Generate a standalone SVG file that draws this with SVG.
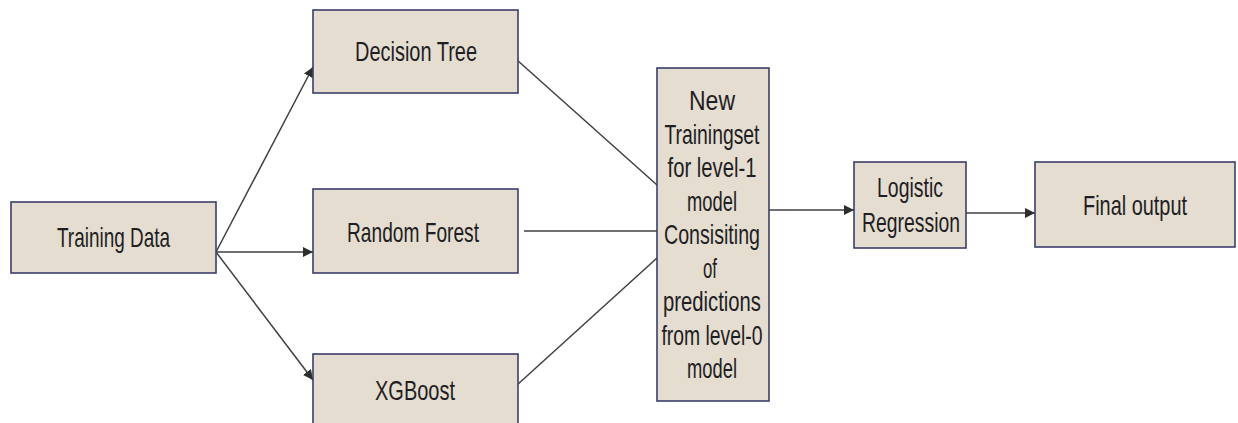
<svg xmlns="http://www.w3.org/2000/svg" width="1238" height="423" viewBox="0 0 1238 423">
<style>
.box{fill:#E4DDD0;stroke:#3B3F6B;stroke-width:1.6}
.t{font-family:"Liberation Sans Narrow","Arial Narrow","Liberation Sans",sans-serif;font-size:28px;fill:#1e1e24;text-anchor:middle}
.c{stroke:#404040;stroke-width:1.5;fill:none}
</style>
<defs>
<marker id="ah" viewBox="0 0 10 10" refX="10" refY="5" markerWidth="10" markerHeight="10" markerUnits="userSpaceOnUse" orient="auto">
<path d="M0,0 L10,5 L0,10 z" fill="#2e2e2e"/>
</marker>
</defs>
<rect width="1238" height="423" fill="#ffffff"/>
<g id="connectors">
<line class="c" x1="216" y1="252" x2="313" y2="67" marker-end="url(#ah)"/>
<line class="c" x1="216" y1="252" x2="313" y2="252" marker-end="url(#ah)"/>
<line class="c" x1="216" y1="252" x2="313" y2="380" marker-end="url(#ah)"/>
<line class="c" x1="517" y1="60" x2="657" y2="185"/>
<line class="c" x1="524" y1="231" x2="657" y2="231"/>
<line class="c" x1="517" y1="385" x2="657" y2="258"/>
<line class="c" x1="769" y1="210" x2="854" y2="210" marker-end="url(#ah)"/>
<line class="c" x1="966" y1="213" x2="1035" y2="213" marker-end="url(#ah)"/>
</g>
<g id="training-data">
<rect class="box" x="11" y="202" width="205" height="71"/>
<text class="t" x="113.5" y="247" textLength="113" lengthAdjust="spacingAndGlyphs">Training Data</text>
</g>
<g id="decision-tree">
<rect class="box" x="313" y="10" width="205" height="83"/>
<text class="t" x="416" y="61" textLength="122" lengthAdjust="spacingAndGlyphs">Decision Tree</text>
</g>
<g id="random-forest">
<rect class="box" x="313" y="189" width="205" height="84"/>
<text class="t" x="413" y="242" textLength="132" lengthAdjust="spacingAndGlyphs">Random Forest</text>
</g>
<g id="xgboost">
<rect class="box" x="313" y="354" width="205" height="84"/>
<text class="t" x="415" y="400" textLength="80" lengthAdjust="spacingAndGlyphs">XGBoost</text>
</g>
<g id="new-trainingset">
<rect class="box" x="657" y="68" width="112" height="333"/>
<text class="t" x="712" y="110" textLength="46" lengthAdjust="spacingAndGlyphs">New</text>
<text class="t" x="712" y="143.5" textLength="95" lengthAdjust="spacingAndGlyphs">Trainingset</text>
<text class="t" x="712" y="177" textLength="89" lengthAdjust="spacingAndGlyphs">for level-1</text>
<text class="t" x="712" y="210.5" textLength="50" lengthAdjust="spacingAndGlyphs">model</text>
<text class="t" x="712" y="244" textLength="96" lengthAdjust="spacingAndGlyphs">Consisiting</text>
<text class="t" x="710" y="277.5" textLength="14" lengthAdjust="spacingAndGlyphs">of</text>
<text class="t" x="712" y="311" textLength="98" lengthAdjust="spacingAndGlyphs">predictions</text>
<text class="t" x="712" y="344.5" textLength="101" lengthAdjust="spacingAndGlyphs">from level-0</text>
<text class="t" x="712" y="378" textLength="50" lengthAdjust="spacingAndGlyphs">model</text>
</g>
<g id="logistic-regression">
<rect class="box" x="854" y="162" width="112" height="86"/>
<text class="t" x="910" y="197" textLength="66" lengthAdjust="spacingAndGlyphs">Logistic</text>
<text class="t" x="911" y="232" textLength="98" lengthAdjust="spacingAndGlyphs">Regression</text>
</g>
<g id="final-output">
<rect class="box" x="1035" y="162" width="200" height="85"/>
<text class="t" x="1135" y="215" textLength="104" lengthAdjust="spacingAndGlyphs">Final output</text>
</g>
</svg>
